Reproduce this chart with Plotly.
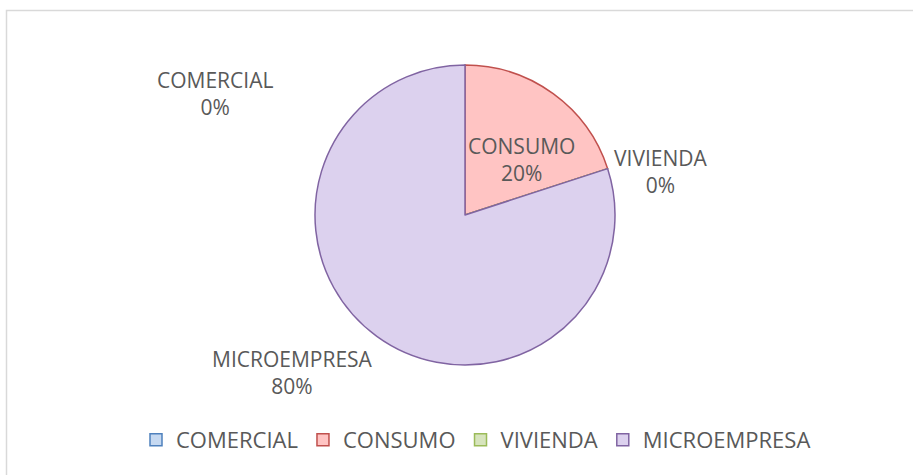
import plotly.graph_objects as go

labels = ["COMERCIAL", "CONSUMO", "VIVIENDA", "MICROEMPRESA"]
values = [0, 20, 0, 80]
fill_colors = ["#c6d9f1", "#ffc4c3", "#d7e4bd", "#dcd1ee"]
line_colors = ["#4f81bd", "#c0504d", "#9bbb59", "#8064a2"]

W, H = 913, 475
total = sum(values)
pcts = [round(v * 100 / total) for v in values]

# label centre positions in pixels (layout only)
label_pos = [(215, 94), (521, 159), (660, 171), (292, 372)]

fig = go.Figure(go.Pie(
    labels=labels,
    values=values,
    sort=False,
    direction="clockwise",
    rotation=0,
    textinfo="none",
    hoverinfo="label+percent",
    marker=dict(colors=fill_colors, line=dict(color=line_colors, width=1.5)),
    domain=dict(x=[(465 - 150) / W, (465 + 150) / W],
                y=[1 - 365 / H, 1 - 65 / H]),
    showlegend=True,
))

annotations = []
for lab, p, (px, py) in zip(labels, pcts, label_pos):
    annotations.append(dict(
        x=px / W, y=1 - py / H, xref="paper", yref="paper",
        text=f"{lab}<br>{p}%", showarrow=False,
        xanchor="center", yanchor="middle",
        font=dict(family="Open Sans", size=21, color="#595959"),
    ))

fig.update_layout(
    width=W, height=H,
    margin=dict(l=0, r=0, t=0, b=0),
    paper_bgcolor="white",
    plot_bgcolor="white",
    annotations=annotations,
    legend=dict(
        orientation="h",
        x=136 / W, xanchor="left",
        y=1 - 440 / H, yanchor="middle",
        font=dict(family="Open Sans", size=22, color="#595959"),
        itemclick=False,
    ),
    shapes=[dict(
        type="rect", xref="paper", yref="paper",
        x0=6.5 / W, x1=1.05, y0=-0.05, y1=1 - 10.5 / H,
        line=dict(color="#d9d9d9", width=1.5),
        layer="below",
    )],
)

fig.write_html("out.html", config={"displayModeBar": False},
               post_script="document.body.style.margin='0px';")
